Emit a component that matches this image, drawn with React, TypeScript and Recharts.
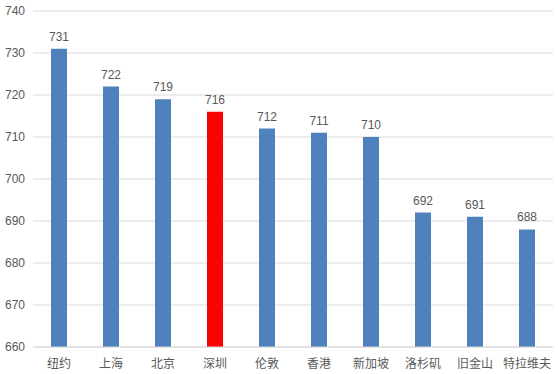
import React from "react";
import { Bar, BarChart, CartesianGrid, Cell, LabelList, XAxis, YAxis } from "recharts";

const cities = ["纽约", "上海", "北京", "深圳", "伦敦", "香港", "新加坡", "洛杉矶", "旧金山", "特拉维夫"];
const scores = [731, 722, 719, 716, 712, 711, 710, 692, 691, 688];
const yTicks = [660, 670, 680, 690, 700, 710, 720, 730, 740];
const highlight = "深圳";

const data = cities.map((city, i) => ({ city, score: scores[i] }));

const font = "'Liberation Sans', Arial, 'Noto Sans CJK SC', sans-serif";

export default function App() {
  return (
    <div style={{ position: "absolute", left: 0, top: 0, background: "#fff" }}>
      <BarChart
        width={558}
        height={374}
        data={data}
        margin={{ top: 11, right: 5, left: 0, bottom: 0 }}
        style={{ fontFamily: font }}
      >
        <CartesianGrid vertical={false} stroke="#d9d9d9" />
        <XAxis
          dataKey="city"
          axisLine={{ stroke: "#d9d9d9" }}
          tickLine={false}
          height={27}
          tick={{ fill: "#595959", fontSize: 12 }}
          interval={0}
          tickMargin={6}
        />
        <YAxis
          domain={[660, 740]}
          ticks={yTicks}
          width={33}
          axisLine={false}
          tickLine={false}
          tick={{ fill: "#595959", fontSize: 12 }}
          tickMargin={2}
        />
        <Bar dataKey="score" barSize={16} isAnimationActive={false}>
          {data.map((d) => (
            <Cell key={d.city} fill={d.city === highlight ? "#ff0000" : "#4f81bd"} />
          ))}
          <LabelList dataKey="score" position="top" offset={8} fill="#595959" fontSize={12} />
        </Bar>
      </BarChart>
    </div>
  );
}
